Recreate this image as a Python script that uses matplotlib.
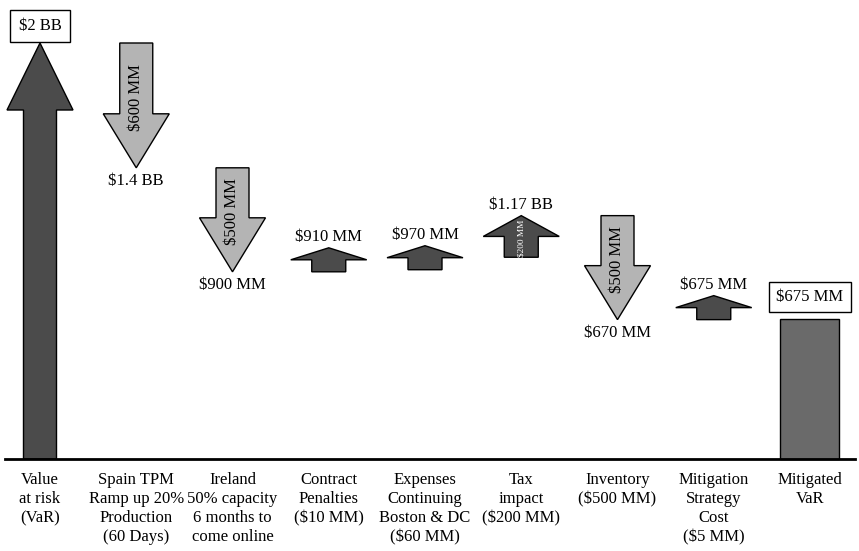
import numpy as np
import matplotlib.pyplot as plt
from matplotlib.patches import FancyArrow

plt.rcParams['font.family'] = 'serif'
plt.rcParams['font.serif'] = ['Liberation Serif', 'DejaVu Serif']
plt.rcParams['text.parse_math'] = False

# steps of the value-at-risk walk, shown under the baseline
categories = [
    "Value\nat risk\n(VaR)",
    "Spain TPM\nRamp up 20%\nProduction\n(60 Days)",
    "Ireland\n50% capacity\n6 months to\ncome online",
    "Contract\nPenalties\n($10 MM)",
    "Expenses\nContinuing\nBoston & DC\n($60 MM)",
    "Tax\nimpact\n($200 MM)",
    "Inventory\n($500 MM)",
    "Mitigation\nStrategy\nCost\n($5 MM)",
    "Mitigated\nVaR",
]
# change in VaR at each step in $MM (first entry is the starting VaR)
changes = [2000, -600, -500, 10, 60, 200, -500, 5]
level_labels = ["$2 BB", "$1.4 BB", "$900 MM", "$910 MM", "$970 MM",
                "$1.17 BB", "$670 MM", "$675 MM"]
change_labels = ["", "$600 MM", "$500 MM", "", "", "$200 MM", "$500 MM", ""]
final_label = "$675 MM"

levels = np.cumsum(changes)
starts = np.concatenate([[0], levels[:-1]])
final_value = levels[-1]

W, H, DPI = 859, 551, 100
fig = plt.figure(figsize=(W / DPI, H / DPI), dpi=DPI)
ax = fig.add_axes([0, 0, 1, 1])
ax.axis('off')

# layout in pixels: first column 40px from the left, 96.25px per step,
# baseline 92px above the bottom, 2000 MM reaching 43px below the top
step_px = 96.25
base_px = 92
mm_px = (H - base_px - 43) / 2000
ax.set_xlim(-40 / step_px, (W - 40) / step_px)
ax.set_ylim(-base_px / mm_px, (H - base_px) / mm_px)


def px_x(p):
    return p / step_px


def px_y(p):
    return p / mm_px


dark = '#4b4b4b'
light = '#b4b4b4'
bar_gray = '#6a6a6a'
fs = 12

for i, (start, end) in enumerate(zip(starts, levels)):
    up = end > start
    sign = 1 if up else -1
    length_px = max(abs(end - start) * mm_px, 24)
    if i == 0:
        shaft, head, head_len = 33, 66, 67
    elif length_px > 80:
        shaft, head, head_len = 33, 66, 54
    else:
        shaft, head, head_len = 34, 76, length_px / 2
    ax.add_patch(FancyArrow(i, start, 0, sign * px_y(length_px),
                            width=px_x(shaft), head_width=px_x(head),
                            head_length=px_y(head_len), length_includes_head=True,
                            fc=dark if up else light, ec='black', lw=1))
    tip = start + sign * px_y(length_px)

    if i == 0:
        ax.text(i, tip + px_y(9), level_labels[i], ha='center', va='bottom',
                fontsize=fs, bbox=dict(boxstyle='square,pad=0.5', fc='white',
                                       ec='black', lw=1))
    elif up:
        ax.text(i, tip + px_y(3), level_labels[i], ha='center', va='bottom', fontsize=fs)
    else:
        ax.text(i, tip - px_y(5), level_labels[i], ha='center', va='top', fontsize=fs)

    if change_labels[i]:
        # short arrows get a smaller label so it stays inside the shape
        size = fs if length_px > 90 else fs * (length_px - 2) / 70
        mid = (start + tip) / 2 - sign * px_y(8 if length_px > 90 else 2)
        ax.text(i, mid, change_labels[i], rotation=90, ha='center', va='center',
                fontsize=size, color='white' if up else 'black')

# mitigated VaR total
n = len(categories) - 1
ax.bar(n, final_value, width=px_x(59), color=bar_gray, edgecolor='black', lw=1)
ax.text(n, final_value + px_y(14), final_label, ha='center', va='bottom', fontsize=fs,
        bbox=dict(boxstyle='square,pad=0.42', fc='white', ec='black', lw=1))

ax.axhline(0, xmin=5 / W, xmax=855 / W, color='black', lw=2)

for i, name in enumerate(categories):
    ax.text(i, -px_y(13), name, ha='center', va='top', fontsize=fs, linespacing=1.26)

fig.savefig('out.png', dpi=DPI)
